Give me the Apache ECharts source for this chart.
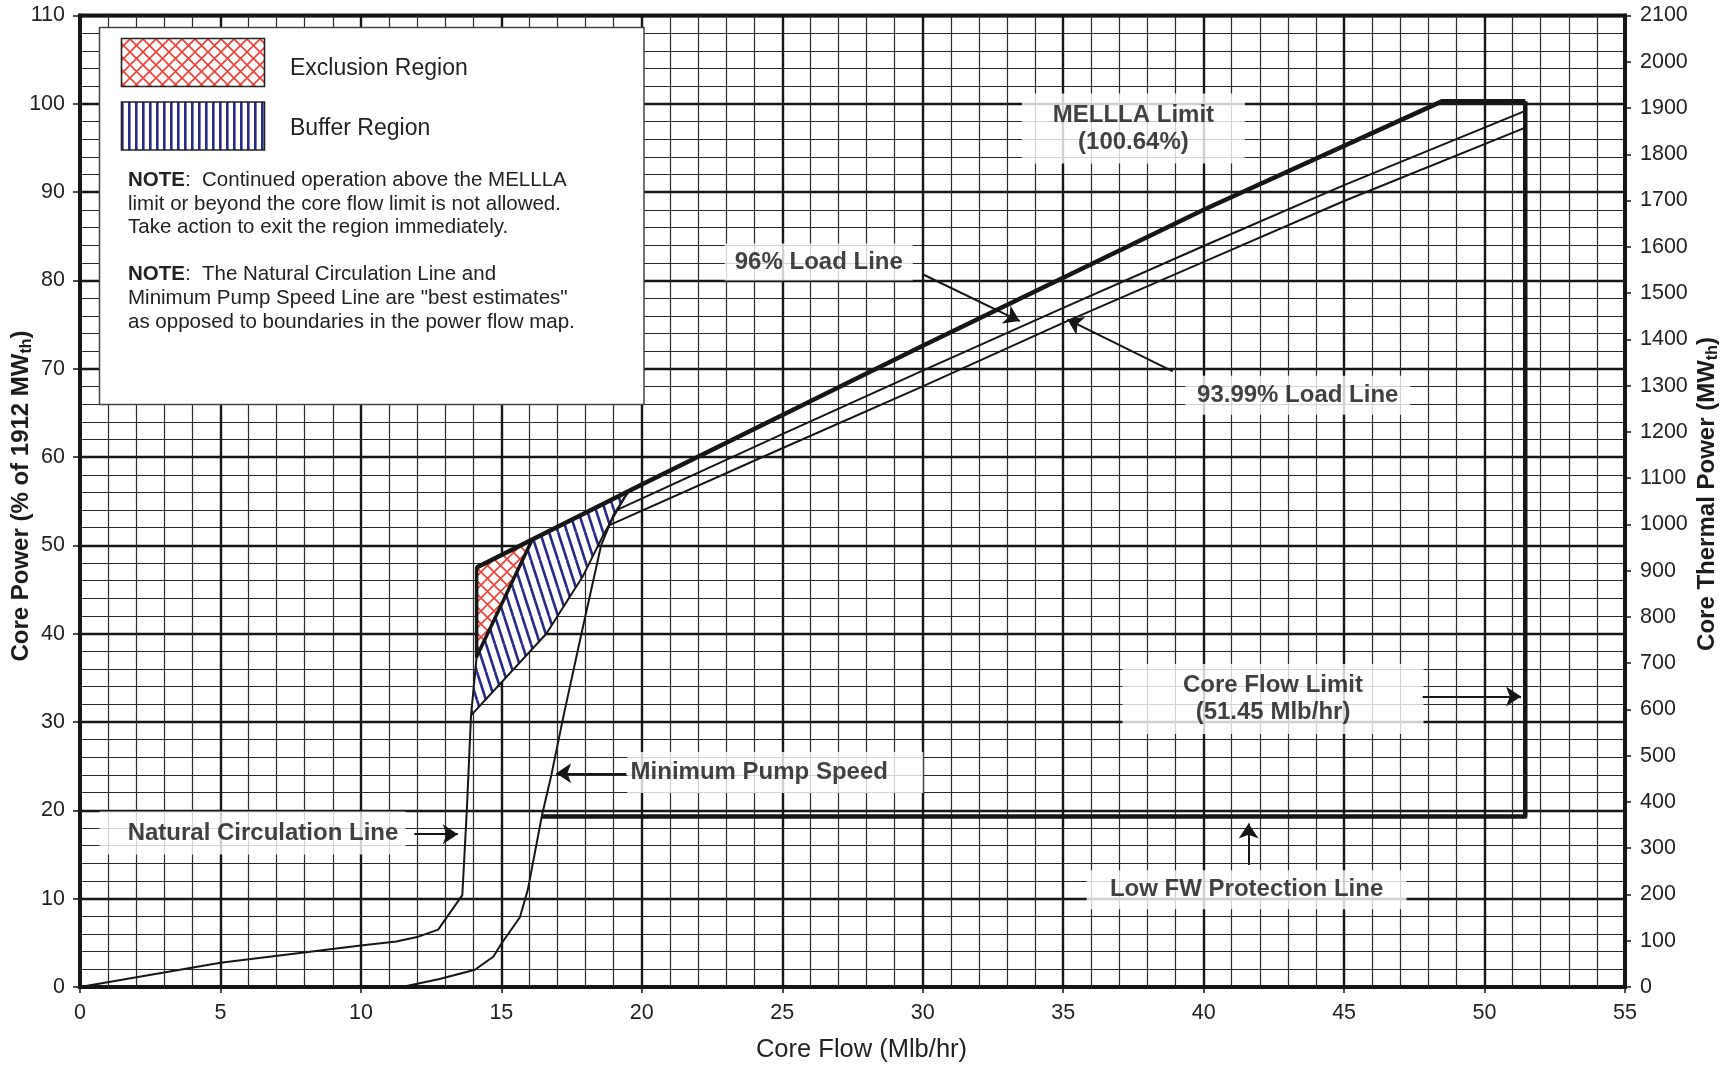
<!DOCTYPE html>
<html><head><meta charset="utf-8">
<script src="https://cdn.jsdelivr.net/npm/echarts@6/dist/echarts.min.js"></script>
<style>html,body{margin:0;padding:0;background:#fff}#c{width:1733px;height:1066px}</style>
</head><body><div id="c"></div>
<script>
// ---------- data ----------
const naturalCirculation = [[0,0],[5,2.75],[10,4.7],[11.26,5.15],[12.0,5.65],[12.75,6.5],[13.61,10.4],[13.77,20],[13.92,30.75]];
const minimumPumpSpeed = [[11.46,0],[12.8,0.9],[14.06,1.95],[14.72,3.46],[15.0,4.9],[15.66,7.9],[15.94,11.0],[16.45,19.5],[16.78,24.0],[17.2,30.5],[17.85,40.0],[18.55,50.0],[19.0,53.5],[19.55,56.2]];
const mellaLimit = [[14.12,47.5],[20,56.9],[30,72.6],[40,88.0],[48.5,100.3],[51.45,100.3]];
const loadLine96 = [[19.1,54.0],[25,62.6],[30,69.8],[35,76.9],[40,83.9],[45,90.8],[51.45,99.2]];
const loadLine9399 = [[18.85,52.3],[25,61.0],[30,68.0],[35,75.2],[40,82.1],[45,89.0],[51.45,97.3]];
const coreFlowLowFW = [[16.45,19.3],[51.45,19.3],[51.45,100.3]];
const exclusionRegion = [[14.12,47.5],[16.1,50.67],[14.12,37.4]];
const bufferRegion = [[14.12,37.4],[16.1,50.67],[19.5,56.1],[18.6,51.0],[17.9,46.5],[16.6,40.0],[13.92,30.75]];

const annotationTexts = ['MELLLA Limit\n(100.64%)','96% Load Line','93.99% Load Line','Core Flow Limit\n(51.45 Mlb/hr)','Low FW Protection Line','Minimum Pump Speed','Natural Circulation Line'];
const annotationAnchors = [[37.5,97.2],[26.3,82.1],[43.35,67.0],[42.47,32.6],[41.53,11.0],[24.75,24.3],[6.14,17.45]];
const arrowSegments = [
  [[30.0,80.7],[33.45,75.4]],
  [[38.9,69.7],[35.15,75.6]],
  [[47.8,32.9],[51.3,32.9]],
  [[41.6,13.8],[41.6,18.5]],
  [[19.45,24.2],[16.95,24.2]],
  [[11.9,17.3],[13.45,17.3]]
];
const legendTexts = ['Exclusion Region','Buffer Region'];
const noteLines = [
  ['NOTE',':  Continued operation above the MELLLA'],
  ['','limit or beyond the core flow limit is not allowed.'],
  ['','Take action to exit the region immediately.'],
  ['NOTE',':  The Natural Circulation Line and'],
  ['','Minimum Pump Speed Line are "best estimates"'],
  ['','as opposed to boundaries in the power flow map.']
];
const xAxisTitle = 'Core Flow (Mlb/hr)';
const leftAxisTitle = ['Core Power (% of 1912 MW', 'th', ')'];
const rightAxisTitle = ['Core Thermal Power (MW', 'th', ')'];

// ---------- styles ----------
const FONT = "'Liberation Sans', Arial, Helvetica, sans-serif";
const INK = '#161616';

function crossPattern(){
  const s = 13, c = document.createElement('canvas'); c.width = s; c.height = s;
  const g = c.getContext('2d'); g.fillStyle = '#fff'; g.fillRect(0,0,s,s);
  g.strokeStyle = '#e8453c'; g.lineWidth = 1.7; g.beginPath();
  g.moveTo(-2,-2); g.lineTo(s+2,s+2); g.moveTo(s+2,-2); g.lineTo(-2,s+2); g.stroke();
  return c;
}
function slantPattern(){
  const w = 9, h = 28, c = document.createElement('canvas'); c.width = w; c.height = h;
  const g = c.getContext('2d'); g.fillStyle = '#fff'; g.fillRect(0,0,w,h);
  g.strokeStyle = '#262a86'; g.lineWidth = 2.6; g.beginPath();
  for (const o of [-w,0,w]) { g.moveTo(o,0); g.lineTo(o+w,h); }
  g.stroke();
  return c;
}
function vertPattern(){
  const w = 7, h = 10, c = document.createElement('canvas'); c.width = w; c.height = h;
  const g = c.getContext('2d'); g.fillStyle = '#fff'; g.fillRect(0,0,w,h);
  g.fillStyle = '#262a86'; g.fillRect(2,0,2.6,h);
  return c;
}
const crossImg = crossPattern(), slantImg = slantPattern(), vertImg = vertPattern();

// per-annotation box styling: [content width, padTop, padBottom, padLeft, padRight]
const boxStyles = [
  [223,8,8,0,0],
  [188,5,5,0,0],
  [225,6,6,0,0],
  [301,8,8,0,0],
  [320,6,6,0,0],
  [258,7,7,3,35],
  [263,8,8,32,11]
];

function polygonSeries(name, pts, img, lw, z){
  return {
    type:'custom', name, z, silent:true, data: pts,
    renderItem: function(params, api){
      if (params.dataIndex !== 0) return null;
      return { type:'polygon', shape:{ points: pts.map(p => api.coord(p)) },
        style:{ fill:{image: img, repeat:'repeat'}, stroke: INK, lineWidth: lw, lineJoin:'round' } };
    }
  };
}
function lineSeries(name, pts, w, z){
  return { type:'line', name, data: pts, showSymbol:false, symbol:'none', silent:true, z: z||3,
    lineStyle:{ color: INK, width: w, join:'round' }, animation:false };
}

const chart = echarts.init(document.getElementById('c'), null, {renderer:'canvas'});

const axisLabelStyle = { color:'#222', fontSize: 21.5, fontFamily: FONT };
const majorSplit = { show:true, lineStyle:{ color: INK, width: 2.4 } };
const minorSplit = { show:true, lineStyle:{ color: '#2a2a2a', width: 1.2 } };
const nameRich = { b:{fontSize:24, fontWeight:'bold', fontFamily:FONT, fill:'#1c1c1c'}, s:{fontSize:16, fontWeight:'bold', fontFamily:FONT, fill:'#1c1c1c', padding:[12,0,0,0]} };

function vTitle(parts, x, y){
  return { type:'text', z:60, x, y, rotation: Math.PI/2, style:{
    text: '{b|' + parts[0] + '}{s|' + parts[1] + '}{b|' + parts[2] + '}',
    align:'center', verticalAlign:'middle', rich: nameRich } };
}

const graphics = [
  { type:'rect', z:50, shape:{x:99.5,y:27.5,width:544.5,height:377}, style:{fill:'#fff', stroke:'#444', lineWidth:1.5} },
  { type:'rect', z:51, shape:{x:121.5,y:38.5,width:143,height:48}, style:{fill:{image:crossImg,repeat:'repeat'}, stroke:'#222', lineWidth:1.6} },
  { type:'rect', z:51, shape:{x:121.5,y:102,width:143,height:48}, style:{fill:{image:vertImg,repeat:'repeat'}, stroke:'#222', lineWidth:1.6} },
  { type:'text', z:51, x:290, y:69, style:{ text: legendTexts[0], fontSize:23, fontFamily:FONT, fill:'#222', verticalAlign:'middle' } },
  { type:'text', z:51, x:290, y:129, style:{ text: legendTexts[1], fontSize:23, fontFamily:FONT, fill:'#222', verticalAlign:'middle' } },
  vTitle(leftAxisTitle, 21, 496),
  vTitle(rightAxisTitle, 1707, 494)
];
const noteY = [180,204,227,274,298,322];
noteLines.forEach((ln, i) => {
  graphics.push({ type:'text', z:51, x:128, y: noteY[i], style:{
    text: (ln[0] ? '{b|' + ln[0] + '}' : '') + '{n|' + ln[1].replace(/[{}|]/g,'') + '}',
    verticalAlign:'middle', fill:'#222',
    rich:{ b:{fontSize:20.5, fontWeight:'bold', fontFamily:FONT, fill:'#222'}, n:{fontSize:20.5, fontFamily:FONT, fill:'#222'} }
  }});
});

const annotationData = annotationAnchors.map((p, i) => {
  const b = boxStyles[i];
  return { value: p, label:{ formatter: annotationTexts[i], width: b[0], padding:[b[1], b[4], b[2], b[3]] } };
});

const option = {
  animation:false,
  backgroundColor:'#fff',
  grid:{ left:80, right:108, top:15.5, bottom:79, outerBoundsMode:'none', containLabel:false,
    show:true, borderColor: INK, borderWidth:4, backgroundColor:'transparent' },
  xAxis:{
    type:'value', min:0, max:55, interval:5,
    name: xAxisTitle, nameLocation:'middle', nameGap:50,
    nameTextStyle:{ fontSize:25.5, fontFamily:FONT, color:'#222', padding:[0,0,0,18] },
    axisLine:{ show:true, lineStyle:{ color: INK, width:4 } },
    axisTick:{ show:true, length:6, lineStyle:{ color: INK, width:1.5 } },
    axisLabel:{ ...axisLabelStyle, margin:15 },
    splitLine: majorSplit,
    minorTick:{ show:false, splitNumber:5 },
    minorSplitLine: minorSplit
  },
  yAxis:[{
    type:'value', min:0, max:110, interval:10, position:'left',
    axisLine:{ show:true, lineStyle:{ color: INK, width:4 } },
    axisTick:{ show:true, length:7, lineStyle:{ color: INK, width:1.5 } },
    axisLabel:{ ...axisLabelStyle, margin:15 },
    splitLine: majorSplit,
    minorTick:{ show:false, splitNumber:5 },
    minorSplitLine: minorSplit
  },{
    type:'value', min:0, max:2100, interval:100, position:'right',
    axisLine:{ show:true, lineStyle:{ color: INK, width:4 } },
    axisTick:{ show:true, length:6, lineStyle:{ color: INK, width:1.5 } },
    axisLabel:{ ...axisLabelStyle, margin:15, formatter: v => String(v) },
    splitLine:{ show:false }
  }],
  series:[
    polygonSeries('Buffer Region', bufferRegion, slantImg, 2, 2),
    polygonSeries('Exclusion Region', exclusionRegion, crossImg, 3.5, 2),
    lineSeries('Natural Circulation Line', naturalCirculation, 2),
    lineSeries('Minimum Pump Speed', minimumPumpSpeed, 2),
    lineSeries('96% Load Line', loadLine96, 2),
    lineSeries('93.99% Load Line', loadLine9399, 2),
    lineSeries('MELLLA Limit', mellaLimit, 4.5, 4),
    lineSeries('Core Flow Limit / Low FW Protection Line', coreFlowLowFW, 4.5, 4),
    {
      type:'scatter', name:'annotations', silent:true, z:5, symbolSize:0, data: annotationData,
      label:{ show:true, position:'inside', backgroundColor:'#fff', color:'#111', fontSize:24, fontWeight:'bold',
        fontFamily:FONT, lineHeight:27, align:'center', verticalAlign:'middle' }
    },
    {
      type:'lines', coordinateSystem:'cartesian2d', name:'arrows', silent:true, z:6,
      data: arrowSegments.map(s => ({ coords: s })),
      symbol:['none','arrow'], symbolSize:[0,15],
      lineStyle:{ color: INK, width:2, curveness:0, opacity:1 }
    }
  ],
  graphic: graphics
};
chart.setOption(option);
</script></body></html>
